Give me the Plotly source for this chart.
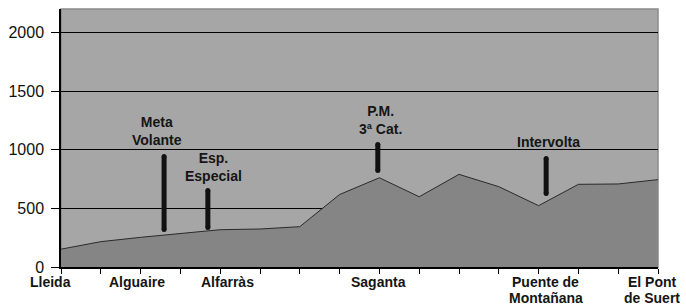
import plotly.graph_objects as go

# ---- data ----
point_index = list(range(16))
elevation = [152, 216, 253, 288, 318, 324, 344, 618, 761, 599, 790, 685, 523, 705, 708, 745]

town_labels = ["Lleida", "Alguaire", "Alfarràs", "Saganta", "Puente de<br>Montañana", "El Pont<br>de Suert"]
town_index = [0, 2, 4, 8, 12, 15]

event_labels = ["Meta<br>Volante", "Esp.<br>Especial", "P.M.<br>3ª Cat.", "Intervolta"]
event_x = [2.59, 3.69, 7.96, 12.19]
event_bottom = [320, 337, 823, 627]
event_top = [942, 652, 1045, 925]
event_label_x = [2.41, 3.84, 8.04, 12.24]
event_label_y = [1160, 851, 1255, 1066]

y_ticks = [0, 500, 1000, 1500, 2000]

# ---- style ----
FONT = "Liberation Sans, Arial, sans-serif"
town_shift = [-11, -4, 7, -1, 7, -6]
LINE_STEP = 16

fig = go.Figure()

fig.add_trace(go.Scatter(
    x=point_index, y=elevation, mode="lines",
    fill="tozeroy", fillcolor="#858585",
    line=dict(color="#2a2a2a", width=1),
    hoverinfo="skip", showlegend=False,
))

for xv, y0, y1 in zip(event_x, event_bottom, event_top):
    fig.add_trace(go.Scatter(
        x=[xv, xv], y=[y0, y1], mode="lines+markers",
        line=dict(color="#111111", width=5),
        marker=dict(color="#111111", size=5),
        hoverinfo="skip", showlegend=False,
    ))

def bold(t):
    return "<br>".join("<b>%s</b>" % s for s in t.split("<br>"))

annotations = []
for txt, xv, yv in zip(event_labels, event_label_x, event_label_y):
    annotations.append(dict(
        x=xv, y=yv, xref="x", yref="y", text=bold(txt), showarrow=False,
        xanchor="center", yanchor="middle",
        font=dict(family=FONT, size=14, color="#151515"),
    ))
for txt, xv, sh in zip(town_labels, town_index, town_shift):
    for i, line in enumerate(txt.split("<br>")):
        annotations.append(dict(
            x=xv, y=0, xref="x", yref="paper", text="<b>%s</b>" % line, showarrow=False,
            xanchor="center", yanchor="top", xshift=sh, yshift=-5 - LINE_STEP * i,
            font=dict(family=FONT, size=14, color="#151515"),
        ))

fig.update_layout(
    width=686, height=306,
    margin=dict(l=61, r=28, t=9, b=39),
    paper_bgcolor="white",
    plot_bgcolor="#a6a6a6",
    font=dict(family=FONT, color="#111111"),
    annotations=annotations,
    shapes=[dict(type="rect", xref="paper", yref="paper", x0=0, x1=1, y0=0, y1=1,
                 line=dict(color="#8a8a8a", width=1.5), fillcolor="rgba(0,0,0,0)",
                 layer="below")],
)

fig.update_xaxes(
    range=[0, 15], tickmode="array", tickvals=point_index, ticktext=[""] * 16,
    ticks="outside", ticklen=5, tickcolor="black", tickwidth=1,
    showgrid=False, zeroline=False,
    showline=True, linecolor="black", linewidth=1.5,
)
fig.update_yaxes(
    range=[0, 2200], tickmode="array", tickvals=y_ticks,
    ticktext=[str(v) for v in y_ticks],
    ticks="outside", ticklen=8, tickcolor="black", tickwidth=1,
    ticklabelstandoff=4,
    tickfont=dict(family=FONT, size=16, color="#111111"),
    showgrid=True, gridcolor="black", gridwidth=1.3,
    zeroline=False,
    showline=True, linecolor="black", linewidth=1.5,
)

fig.write_html("out.html", config={"displayModeBar": False},
               post_script="document.body.style.margin='0';")
